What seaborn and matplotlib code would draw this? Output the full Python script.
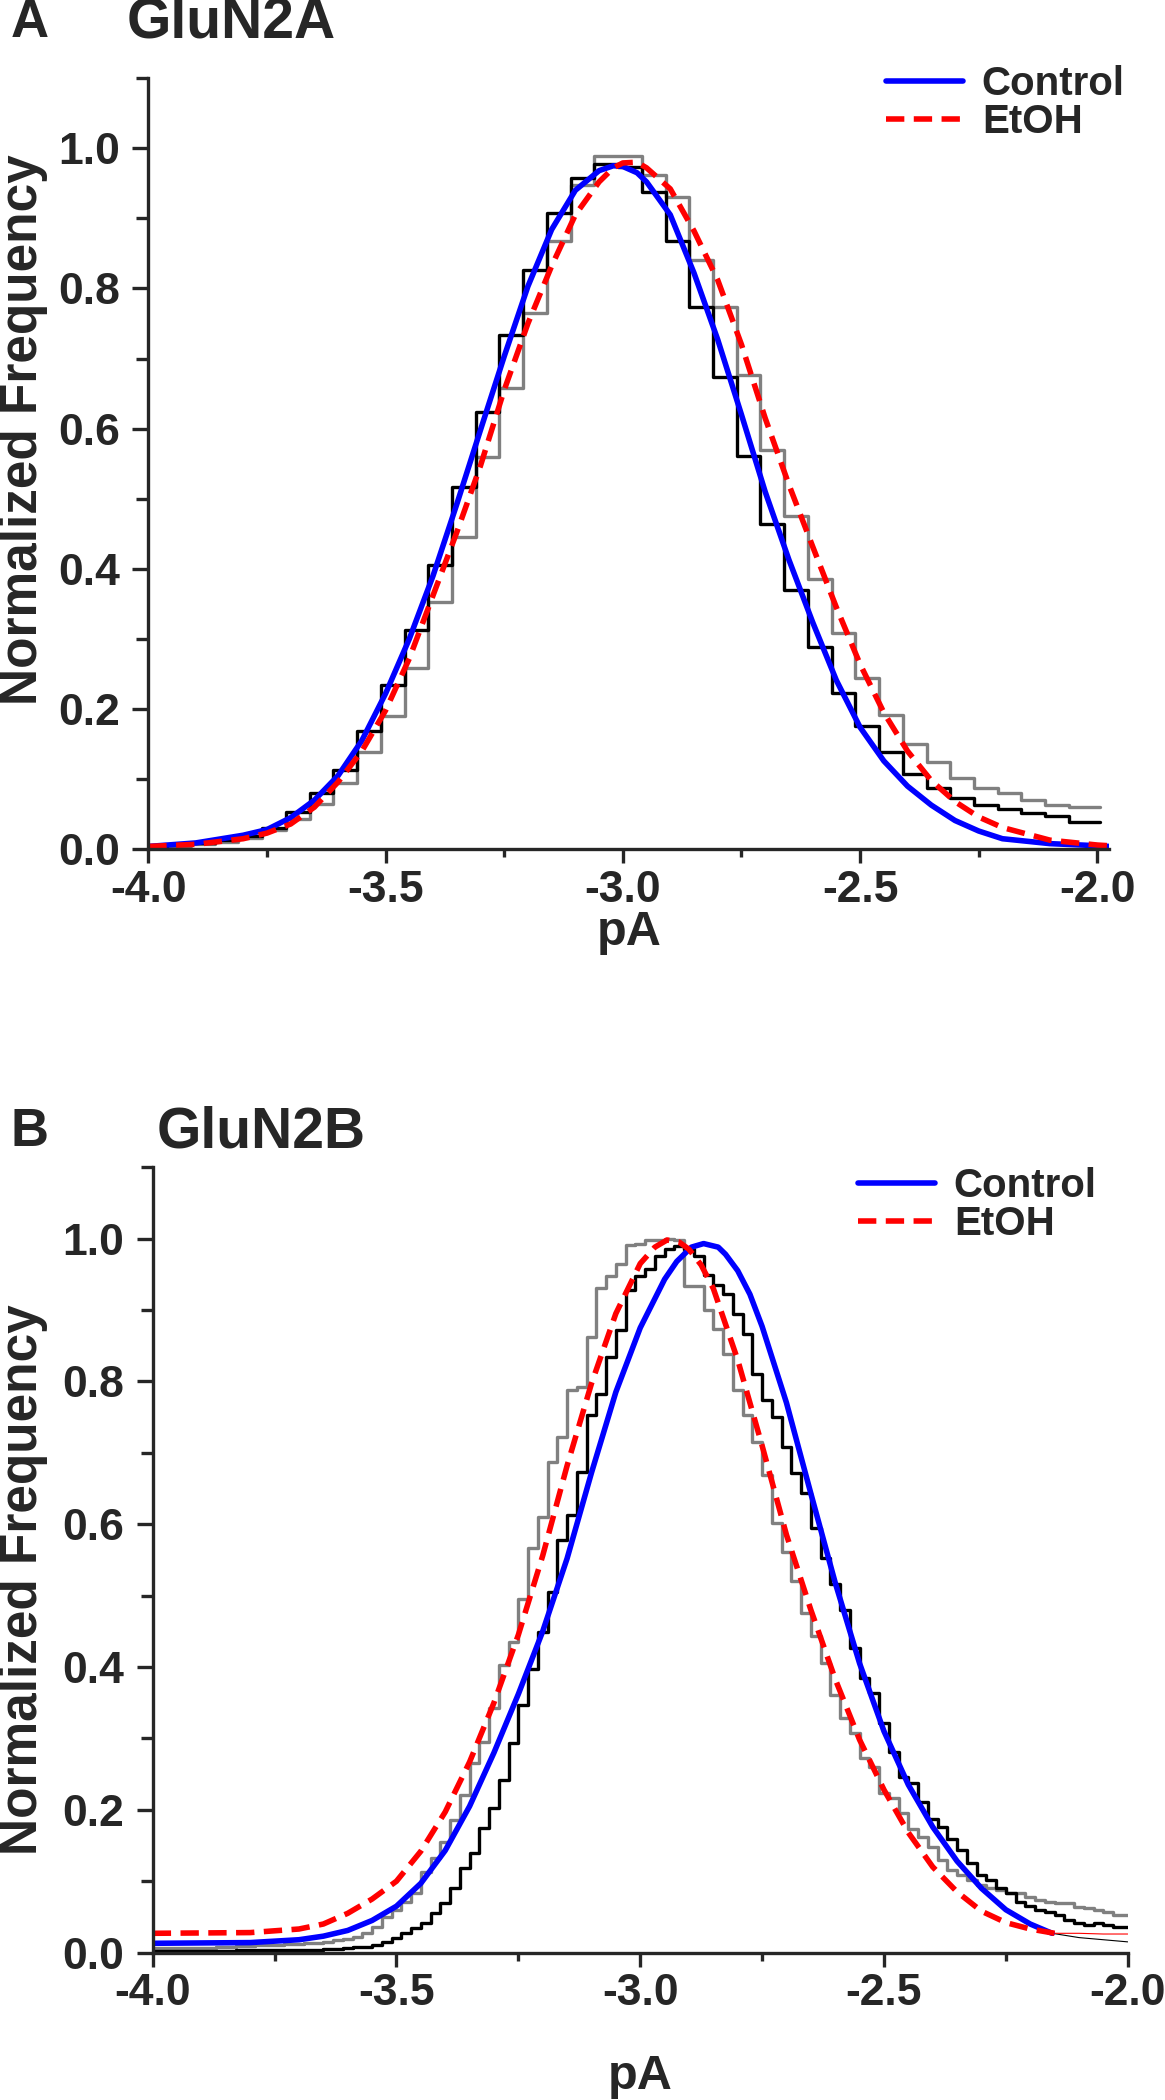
import numpy as np
import matplotlib
matplotlib.use('Agg')
import matplotlib.pyplot as plt
import seaborn as sns
from matplotlib.ticker import MultipleLocator
from matplotlib.lines import Line2D

# ---- panel A : GluN2A (bins 0.05 wide, left edges from -4.01) ----
edges_a = np.round(-4.01 + 0.05 * np.arange(41), 3)
black_a = [0.004, 0.006, 0.009, 0.013, 0.019, 0.030, 0.053, 0.080, 0.113, 0.168,
           0.234, 0.313, 0.406, 0.517, 0.624, 0.734, 0.826, 0.907, 0.957, 0.977,
           0.973, 0.937, 0.867, 0.774, 0.674, 0.561, 0.464, 0.370, 0.288, 0.223,
           0.176, 0.138, 0.107, 0.088, 0.073, 0.063, 0.058, 0.051, 0.047, 0.039]
gray_a = [0.003, 0.005, 0.007, 0.010, 0.016, 0.027, 0.043, 0.065, 0.095, 0.139,
          0.190, 0.258, 0.352, 0.446, 0.559, 0.658, 0.765, 0.867, 0.948, 0.989,
          0.989, 0.962, 0.930, 0.841, 0.774, 0.677, 0.570, 0.475, 0.385, 0.308,
          0.244, 0.192, 0.150, 0.124, 0.101, 0.087, 0.080, 0.070, 0.063, 0.060]

fit_x_a = [-4.0, -3.9, -3.8, -3.75, -3.7, -3.65, -3.6, -3.55, -3.5, -3.45, -3.4, -3.35,
           -3.3, -3.25, -3.2, -3.15, -3.1, -3.05, -3.02, -3.0, -2.97, -2.95, -2.9, -2.85,
           -2.8, -2.75, -2.7, -2.65, -2.6, -2.55, -2.5, -2.45, -2.4, -2.35, -2.3, -2.25,
           -2.2, -2.1, -2.0, -1.975]
ctrl_a = [0.004, 0.009, 0.020, 0.028, 0.045, 0.070, 0.105, 0.155, 0.222, 0.300, 0.390, 0.492,
          0.598, 0.703, 0.803, 0.884, 0.940, 0.968, 0.975, 0.974, 0.965, 0.952, 0.905, 0.822,
          0.727, 0.620, 0.510, 0.413, 0.324, 0.241, 0.174, 0.126, 0.090, 0.063, 0.041, 0.026,
          0.015, 0.008, 0.005, 0.004]
etoh_a = [0.004, 0.007, 0.015, 0.023, 0.036, 0.060, 0.096, 0.140, 0.198, 0.272, 0.362, 0.452,
          0.547, 0.655, 0.750, 0.832, 0.905, 0.952, 0.972, 0.979, 0.980, 0.972, 0.942, 0.882,
          0.812, 0.720, 0.615, 0.520, 0.432, 0.345, 0.264, 0.195, 0.140, 0.098, 0.068, 0.046,
          0.031, 0.013, 0.006, 0.005]

# ---- panel B : GluN2B (bins 0.02 wide, centres -4.00 ... -2.00) ----
centers_b = np.round(np.linspace(-4.0, -2.0, 101), 3)
black_b = [0.002, 0.002, 0.002, 0.002, 0.002, 0.002, 0.002, 0.002, 0.002, 0.003,
           0.003, 0.003, 0.003, 0.003, 0.004, 0.004, 0.004, 0.004, 0.005, 0.005,
           0.006, 0.008, 0.008, 0.010, 0.015, 0.020, 0.028, 0.034, 0.041, 0.055,
           0.069, 0.090, 0.118, 0.139, 0.174, 0.202, 0.242, 0.293, 0.347, 0.397,
           0.449, 0.505, 0.578, 0.613, 0.673, 0.753, 0.783, 0.834, 0.872, 0.928,
           0.947, 0.958, 0.975, 0.986, 0.990, 0.985, 0.975, 0.949, 0.935, 0.923,
           0.895, 0.867, 0.811, 0.774, 0.750, 0.708, 0.671, 0.643, 0.594, 0.552,
           0.516, 0.480, 0.426, 0.384, 0.363, 0.321, 0.281, 0.246, 0.238, 0.211,
           0.187, 0.176, 0.159, 0.144, 0.125, 0.109, 0.102, 0.090, 0.083, 0.071,
           0.065, 0.060, 0.057, 0.053, 0.046, 0.041, 0.039, 0.042, 0.039, 0.036,
           0.036]
gray_b = [0.006, 0.006, 0.006, 0.006, 0.007, 0.007, 0.007, 0.008, 0.008, 0.009,
          0.009, 0.010, 0.010, 0.011, 0.012, 0.012, 0.013, 0.014, 0.015, 0.017,
          0.019, 0.022, 0.027, 0.036, 0.050, 0.060, 0.071, 0.083, 0.113, 0.132,
          0.155, 0.186, 0.221, 0.265, 0.295, 0.342, 0.403, 0.435, 0.495, 0.566,
          0.610, 0.687, 0.722, 0.788, 0.792, 0.862, 0.931, 0.947, 0.964, 0.991,
          0.993, 0.998, 0.998, 1.000, 0.998, 0.933, 0.933, 0.900, 0.874, 0.839,
          0.788, 0.753, 0.715, 0.669, 0.601, 0.561, 0.521, 0.475, 0.444, 0.406,
          0.361, 0.329, 0.308, 0.272, 0.260, 0.223, 0.216, 0.195, 0.173, 0.162,
          0.148, 0.130, 0.116, 0.109, 0.102, 0.095, 0.090, 0.087, 0.083, 0.083,
          0.078, 0.074, 0.071, 0.069, 0.069, 0.064, 0.062, 0.060, 0.057, 0.053,
          0.053]

ctrl_x_b = [-4.0, -3.8, -3.7, -3.65, -3.6, -3.55, -3.5, -3.45, -3.4, -3.35, -3.3, -3.25,
            -3.2, -3.15, -3.1, -3.05, -3.0, -2.95, -2.925, -2.895, -2.87, -2.84, -2.825,
            -2.8, -2.775, -2.75, -2.7, -2.65, -2.6, -2.55, -2.5, -2.45, -2.4, -2.35, -2.3,
            -2.25, -2.2, -2.155]
ctrl_b = [0.013, 0.014, 0.018, 0.023, 0.031, 0.045, 0.065, 0.097, 0.143, 0.205, 0.280, 0.362,
          0.450, 0.552, 0.672, 0.785, 0.875, 0.943, 0.968, 0.988, 0.993, 0.988, 0.978,
          0.955, 0.922, 0.877, 0.770, 0.643, 0.518, 0.405, 0.310, 0.235, 0.176, 0.128, 0.090,
          0.060, 0.040, 0.027]
etoh_x_b = [-4.0, -3.8, -3.7, -3.65, -3.6, -3.55, -3.5, -3.45, -3.4, -3.35, -3.3, -3.25,
            -3.2, -3.15, -3.1, -3.05, -3.0, -2.97, -2.945, -2.92, -2.9, -2.875, -2.85,
            -2.8, -2.75, -2.7, -2.65, -2.6, -2.55, -2.5, -2.45, -2.4, -2.35, -2.3, -2.25,
            -2.2, -2.15]
etoh_b = [0.027, 0.028, 0.033, 0.040, 0.055, 0.075, 0.100, 0.142, 0.197, 0.267, 0.350, 0.445,
          0.556, 0.682, 0.797, 0.895, 0.965, 0.988, 0.998, 0.995, 0.985, 0.963, 0.930,
          0.830, 0.710, 0.585, 0.480, 0.383, 0.298, 0.228, 0.168, 0.120, 0.085, 0.058, 0.042,
          0.033, 0.027]
# thin tails of the fits past the end of the thick curves
tail_x_b = [-2.155, -2.1, -2.05, -2.0]
tail_ctrl_b = [0.027, 0.021, 0.018, 0.015]
tail_etoh_b = [0.027, 0.027, 0.026, 0.026]

sns.set_style('ticks')
plt.rcParams['font.family'] = ['Liberation Sans', 'DejaVu Sans']
plt.rcParams['font.weight'] = 'bold'
plt.rcParams['axes.unicode_minus'] = False

fig = plt.figure(figsize=(11.65, 21.0), dpi=100)
ax_a = fig.add_axes([0.1273, 0.5956, 0.8248, 0.3672])
ax_b = fig.add_axes([0.1311, 0.0702, 0.8369, 0.3740])

DASH = (0, (3.3, 1.7))
FIT_LW = 4.0
STEP_LW = 2.4


def style_axes(ax, xmax):
    ax.set_xlim(-4.0, xmax)
    ax.set_ylim(0, 1.1)
    ax.xaxis.set_major_locator(MultipleLocator(0.5))
    ax.xaxis.set_minor_locator(MultipleLocator(0.25))
    ax.yaxis.set_major_locator(MultipleLocator(0.2))
    ax.yaxis.set_minor_locator(MultipleLocator(0.1))
    ax.xaxis.set_major_formatter(plt.FuncFormatter(lambda v, p: f'{v:.1f}'))
    ax.yaxis.set_major_formatter(plt.FuncFormatter(lambda v, p: f'{v:.1f}'))
    sns.despine(ax=ax)
    for s in ['left', 'bottom']:
        ax.spines[s].set_linewidth(2.4)
    ax.tick_params(axis='x', which='major', direction='out', length=10, width=2.4,
                   labelsize=32, pad=5)
    ax.tick_params(axis='x', which='minor', direction='out', length=5.5, width=2.4)
    ax.tick_params(axis='y', which='major', direction='out', length=11.5, width=2.4,
                   labelsize=32, pad=9)
    ax.tick_params(axis='y', which='minor', direction='out', length=8.5, width=2.4)
    for lab in ax.get_xticklabels() + ax.get_yticklabels():
        lab.set_fontweight('bold')
    ax.set_xlabel('')
    ax.set_ylabel('')


# panel A
x_step_a = np.append(edges_a, -1.995)
sns.lineplot(x=x_step_a, y=gray_a + [gray_a[-1], gray_a[-1]], ax=ax_a, color='#808080',
             lw=STEP_LW, drawstyle='steps-post', estimator=None, sort=False)
sns.lineplot(x=x_step_a, y=black_a + [black_a[-1], black_a[-1]], ax=ax_a, color='black',
             lw=STEP_LW, drawstyle='steps-post', estimator=None, sort=False)
sns.lineplot(x=fit_x_a, y=ctrl_a, ax=ax_a, color='blue', lw=FIT_LW, estimator=None, sort=False)
sns.lineplot(x=fit_x_a, y=etoh_a, ax=ax_a, color='red', lw=FIT_LW, linestyle=DASH,
             estimator=None, sort=False)
style_axes(ax_a, -1.975)

# panel B
sns.lineplot(x=centers_b, y=gray_b, ax=ax_b, color='#808080', lw=STEP_LW,
             drawstyle='steps-mid', estimator=None, sort=False)
sns.lineplot(x=centers_b, y=black_b, ax=ax_b, color='black', lw=STEP_LW,
             drawstyle='steps-mid', estimator=None, sort=False)
sns.lineplot(x=tail_x_b, y=tail_ctrl_b, ax=ax_b, color='black', lw=0.8, estimator=None, sort=False)
sns.lineplot(x=tail_x_b, y=tail_etoh_b, ax=ax_b, color='red', lw=0.8, estimator=None, sort=False)
sns.lineplot(x=ctrl_x_b, y=ctrl_b, ax=ax_b, color='blue', lw=FIT_LW, estimator=None, sort=False)
sns.lineplot(x=etoh_x_b, y=etoh_b, ax=ax_b, color='red', lw=FIT_LW, linestyle=DASH,
             estimator=None, sort=False)
style_axes(ax_b, -2.0)

# legends
handles = [Line2D([], [], color='blue', lw=FIT_LW),
           Line2D([], [], color='red', lw=FIT_LW, linestyle=DASH)]
for ax, (lx, ly) in [(ax_a, (886 / 1165, 1 - 103 / 2100)), (ax_b, (858 / 1165, 1 - 1205 / 2100))]:
    ax.legend(handles, ['Control', 'EtOH'], loc='center left', bbox_to_anchor=(lx, ly),
              bbox_transform=fig.transFigure, frameon=False, borderpad=0, borderaxespad=0,
              handlelength=1.9, handletextpad=0.48, labelspacing=0.0,
              prop={'size': 29, 'weight': 'bold'})

# texts
fig.text(11 / 1165, 1 - 23 / 2100, 'A', fontsize=38, fontweight='bold', ha='left', va='center')
fig.text(127 / 1165, 1 - 23 / 2100, 'GluN2A', fontsize=41, fontweight='bold', ha='left', va='center')
fig.text(11 / 1165, 1 - 1132 / 2100, 'B', fontsize=38, fontweight='bold', ha='left', va='center')
fig.text(157 / 1165, 1 - 1132 / 2100, 'GluN2B', fontsize=41, fontweight='bold', ha='left', va='center')

for yc in [430, 1580]:
    fig.text(24 / 1165, 1 - yc / 2100, 'Normalized Frequency', fontsize=37, fontweight='bold',
             rotation=90, ha='center', va='center')
fig.text(629 / 1165, 1 - 945 / 2100, 'pA', fontsize=35, fontweight='bold', ha='center', va='baseline')
fig.text(640 / 1165, 1 - 2089 / 2100, 'pA', fontsize=35, fontweight='bold', ha='center', va='baseline')

fig.savefig('out.png', dpi=100)
